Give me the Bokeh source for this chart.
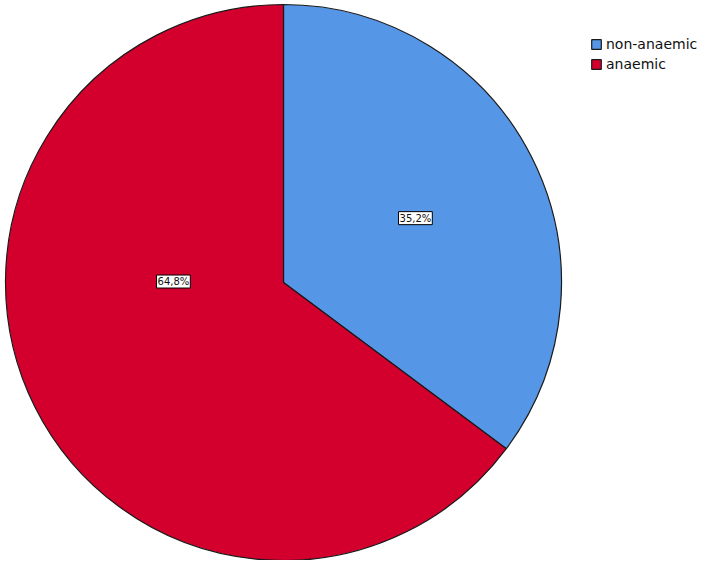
import math
from bokeh.plotting import figure
from bokeh.models import ColumnDataSource, Legend, LegendItem
from bokeh.core.properties import value
from bokeh.embed import file_html
from bokeh.resources import INLINE

# ---- data ----
categories = ["non-anaemic", "anaemic"]
percentages = [35.2, 64.8]
colors = ["#5596E6", "#D3002E"]

# ---- layout constants ----
W, H = 700, 560
CX, CY, R = 283, 278, 278
label_angle_deg = [26.0, 179.5]     # where SPSS put the value labels
label_radius_frac = [0.528, 0.396]

# cumulative angles, clockwise from 12 o'clock
total = sum(percentages)
starts, ends = [], []
acc = 0.0
for v in percentages:
    a0 = math.pi / 2 - 2 * math.pi * acc / total
    a1 = math.pi / 2 - 2 * math.pi * (acc + v) / total
    starts.append(a1)
    ends.append(a0)
    acc += v

p = figure(width=W, height=H, x_range=(0, W), y_range=(0, H),
           output_backend="svg", toolbar_location=None, min_border=0)
p.axis.visible = False
p.grid.visible = False
p.outline_line_color = None
p.background_fill_color = "white"
p.border_fill_color = "white"

renderers = []
for i, cat in enumerate(categories):
    src = ColumnDataSource(dict(x=[CX], y=[CY], s=[starts[i]], e=[ends[i]]))
    r = p.wedge(x="x", y="y", radius=R, start_angle="s", end_angle="e",
                direction="anticlock", source=src, fill_color=colors[i],
                line_color="#1a1a1a", line_width=1.2)
    renderers.append(r)

lx = [CX + f * R * math.cos(math.radians(a)) for f, a in zip(label_radius_frac, label_angle_deg)]
ly = [CY + f * R * math.sin(math.radians(a)) for f, a in zip(label_radius_frac, label_angle_deg)]
labels = [f"{v:.1f}".replace(".", ",") + "%" for v in percentages]
lsrc = ColumnDataSource(dict(x=lx, y=ly, t=labels))
p.text(x="x", y="y", text="t", source=lsrc, text_align="center",
       text_baseline="middle", text_font=value("DejaVu Sans"),
       text_font_size="10px", text_color="#111111",
       background_fill_color="white", border_line_color="black",
       border_line_width=1, padding=1)

legend = Legend(items=[LegendItem(label=c, renderers=[r]) for c, r in zip(categories, renderers)],
                location=(590, 488))
legend.glyph_width = 12
legend.glyph_height = 12
legend.label_height = 12
legend.spacing = 4
legend.padding = 0
legend.margin = 0
legend.label_standoff = 4
legend.border_line_color = None
legend.background_fill_alpha = 0
legend.label_text_font = "DejaVu Sans"
legend.label_text_font_size = "14px"
legend.label_text_color = "#111111"
legend.label_text_baseline = "middle"
p.add_layout(legend)

open("out.html", "w").write(file_html(p, INLINE))
